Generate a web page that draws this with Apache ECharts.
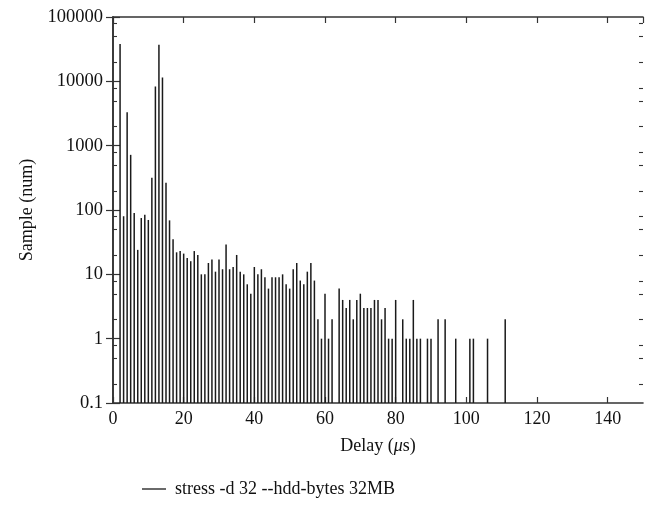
<!DOCTYPE html>
<html>
<head>
<meta charset="utf-8">
<script src="https://cdn.jsdelivr.net/npm/echarts@6/dist/echarts.min.js"></script>
<style>
html,body{margin:0;padding:0;background:#fff;}
#chart{width:651px;height:510px;}
</style>
</head>
<body>
<div id="chart"></div>
<script>
// Delay bins (µs)
const delays = [];
for (let d = 2; d <= 111; d++) delays.push(d);
// Sample counts per delay bin (0 = no samples)
const counts = [
  38000, 80, 3300, 720, 90, 24, 75, 84, 70, 316,          // 2-11
  8300, 37000, 11500, 265, 69, 35, 22, 23, 21, 18,        // 12-21
  16, 23, 20, 10, 10, 15, 17, 11, 17, 12,                 // 22-31
  29, 12, 13, 20, 11, 10, 7, 5, 13, 10,                   // 32-41
  12, 9, 6, 9, 9, 9, 10, 7, 6, 12,                        // 42-51
  15, 8, 7, 11, 15, 8, 2, 1, 5, 1,                        // 52-61
  2, 0, 6, 4, 3, 4, 2, 4, 5, 3,                           // 62-71
  3, 3, 4, 4, 2, 3, 1, 1, 4, 0,                           // 72-81
  2, 1, 1, 4, 1, 1, 0, 1, 1, 0,                           // 82-91
  2, 0, 2, 0, 0, 1, 0, 0, 0, 1,                           // 92-101
  1, 0, 0, 0, 1, 0, 0, 0, 0, 2                            // 102-111
];
const seriesName = 'stress -d 32 --hdd-bytes 32MB';
const xTicks = [0, 20, 40, 60, 80, 100, 120, 140];
const yTickLabels = ['0.1', '1', '10', '100', '1000', '10000', '100000'];
const minorTickMantissas = [2, 5, 8];
const decadeExponents = [-1, 0, 1, 2, 3, 4];

const FONT = "'Liberation Serif', 'DejaVu Serif', serif";
const AXIS_COLOR = '#333';

const data = [];
delays.forEach((d, i) => { if (counts[i] > 0) data.push([d, counts[i]]); });

const minorTickValues = [];
decadeExponents.forEach(e => minorTickMantissas.forEach(m => minorTickValues.push([0, m * Math.pow(10, e)])));

const chart = echarts.init(document.getElementById('chart'), null, {renderer: 'canvas'});

const commonX = {
  type: 'value', min: 0, max: 150, interval: 20,
  axisLine: {show: true, onZero: false, lineStyle: {color: AXIS_COLOR, width: 1.6}},
  axisTick: {show: true, inside: true, length: 6, lineStyle: {color: AXIS_COLOR, width: 1.2}},
  splitLine: {show: false}
};
const commonY = {
  type: 'log', logBase: 10, min: 0.1, max: 100000,
  axisLine: {show: true, lineStyle: {color: AXIS_COLOR, width: 1.6}},
  axisTick: {show: true, inside: true, length: 7, lineStyle: {color: AXIS_COLOR, width: 1.2}},
  minorTick: {show: false},
  splitLine: {show: false}
};

chart.setOption({
  animation: false,
  backgroundColor: '#fff',
  grid: {left: 113, right: 8, top: 17, bottom: 107, containLabel: false},
  legend: {
    data: [{name: seriesName, icon: 'rect'}],
    left: 137, top: 475,
    itemWidth: 24, itemHeight: 1.3,
    textStyle: {fontFamily: FONT, fontSize: 18, color: '#111', padding: [0, 0, 0, 4]}
  },
  xAxis: [
    Object.assign({}, commonX, {
      position: 'bottom',
      name: '{n|Delay (}{i|μ}{n|s)}',
      nameLocation: 'middle', nameGap: 34,
      nameTextStyle: {
        rich: {
          n: {fontFamily: FONT, fontSize: 18, color: '#111'},
          i: {fontFamily: FONT, fontSize: 18, color: '#111', fontStyle: 'italic'}
        }
      },
      axisLabel: {
        show: true, margin: 7, fontFamily: FONT, fontSize: 18, color: '#111',
        showMaxLabel: false,
        formatter: v => (xTicks.indexOf(v) >= 0 ? String(v) : '')
      }
    }),
    Object.assign({}, commonX, {position: 'top', axisLabel: {show: false}})
  ],
  yAxis: [
    Object.assign({}, commonY, {
      position: 'left',
      name: 'Sample (num)', nameLocation: 'middle', nameGap: 75, nameRotate: 90,
      nameTextStyle: {fontFamily: FONT, fontSize: 18, color: '#111'},
      axisLabel: {
        show: true, margin: 10, fontFamily: FONT, fontSize: 18.5, color: '#111',
        formatter: v => {
          const e = Math.round(Math.log10(v));
          return yTickLabels[e + 1] !== undefined ? yTickLabels[e + 1] : '';
        }
      }
    }),
    Object.assign({}, commonY, {position: 'right', axisLabel: {show: false}})
  ],
  series: [{
    name: seriesName,
    type: 'custom',
    xAxisIndex: 0, yAxisIndex: 0,
    color: '#1a1a1a',
    data: data,
    encode: {x: 0, y: 1},
    renderItem: function (params, api) {
      const x = api.value(0);
      const top = api.coord([x, api.value(1)]);
      const base = api.coord([x, 0.1]);
      return {
        type: 'rect',
        shape: {x: top[0] - 0.75, y: top[1], width: 1.5, height: base[1] - top[1]},
        style: {fill: '#1a1a1a'}
      };
    }
  }, {
    name: 'minor-ticks',
    type: 'custom',
    xAxisIndex: 0, yAxisIndex: 0,
    silent: true,
    data: minorTickValues,
    encode: {x: 0, y: 1},
    renderItem: function (params, api) {
      const cs = params.coordSys;
      const y = Math.round(api.coord([0, api.value(1)])[1]) + 0.5;
      const style = {stroke: AXIS_COLOR, lineWidth: 1.1};
      return {
        type: 'group',
        children: [
          {type: 'line', shape: {x1: cs.x, y1: y, x2: cs.x + 4, y2: y}, style: style},
          {type: 'line', shape: {x1: cs.x + cs.width, y1: y, x2: cs.x + cs.width - 4, y2: y}, style: style}
        ]
      };
    }
  }]
});
</script>
</body>
</html>
